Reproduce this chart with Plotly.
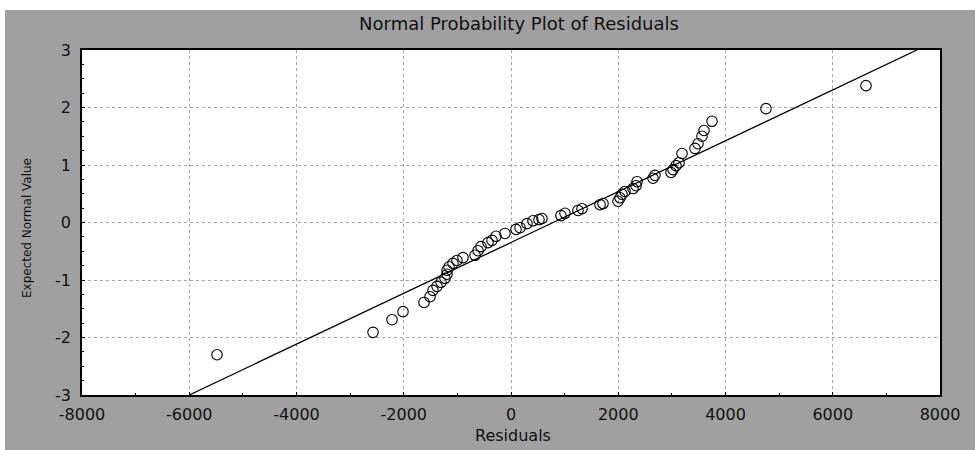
import plotly.graph_objects as go

# Residuals (x) and expected normal values (y)
residuals = [-5482, -2573, -2219, -2014, -1622, -1510, -1455, -1380, -1305, -1231,
             -1193, -1193, -1156, -1082, -1007, -895, -671, -615, -559, -429,
             -354, -280, -112, 93, 168, 298, 410, 522, 578, 932,
             1007, 1249, 1324, 1660, 1716, 1995, 2033, 2070, 2126, 2275,
             2331, 2350, 2648, 2685, 2984, 3021, 3077, 3133, 3189, 3431,
             3487, 3562, 3599, 3748, 4755, 6620]
expected = [-2.30, -1.91, -1.69, -1.55, -1.39, -1.29, -1.18, -1.11, -1.04, -0.97,
            -0.90, -0.83, -0.77, -0.71, -0.66, -0.61, -0.57, -0.49, -0.42, -0.35,
            -0.31, -0.24, -0.19, -0.12, -0.09, -0.02, 0.03, 0.05, 0.07, 0.12,
            0.16, 0.21, 0.24, 0.31, 0.33, 0.37, 0.43, 0.49, 0.54, 0.59,
            0.64, 0.71, 0.77, 0.82, 0.87, 0.92, 0.99, 1.04, 1.20, 1.29,
            1.37, 1.50, 1.60, 1.76, 1.98, 2.38]

# Reference line end points
line_x = [-6000, 7570]
line_y = [-3, 3]

x_ticks = [-8000, -6000, -4000, -2000, 0, 2000, 4000, 6000, 8000]
y_ticks = [-3, -2, -1, 0, 1, 2, 3]

title_text = "Normal Probability Plot of Residuals"
x_title = "Residuals"
y_title = "Expected Normal Value"

FONT = "DejaVu Sans, Liberation Sans, Arial, sans-serif"
TXT = "#111111"

fig = go.Figure()
fig.add_trace(go.Scatter(x=line_x, y=line_y, mode="lines",
                         line=dict(color="black", width=1.3),
                         showlegend=False, hoverinfo="skip"))
fig.add_trace(go.Scatter(x=residuals, y=expected, mode="markers",
                         marker=dict(symbol="circle-open", size=10.5,
                                     color="black", line=dict(width=1.1)),
                         showlegend=False))

W, H = 975, 450
L, R, T, B = 82, 35, 50, 55
pw, ph = W - L - R, H - T - B


def px_x(px):
    return (px - L) / pw


def px_y(py):
    return (H - B - py) / ph


# grey scanned frame + white plot area
fig.add_shape(type="rect", xref="paper", yref="paper", layer="below",
              x0=px_x(5), x1=px_x(W), y0=px_y(H), y1=px_y(10),
              fillcolor="#a0a0a0", line_width=0)
fig.add_shape(type="rect", xref="paper", yref="paper", layer="below",
              x0=0, x1=1, y0=0, y1=1, fillcolor="white", line_width=0)

fig.update_layout(
    width=W, height=H,
    margin=dict(l=L, r=R, t=T, b=B, autoexpand=False),
    paper_bgcolor="white",
    plot_bgcolor="white",
    font=dict(family=FONT, color=TXT),
    title=dict(text=title_text, x=519 / W, xanchor="center",
               y=1 - 24 / H, yanchor="middle", yref="container",
               font=dict(size=18, color=TXT, family=FONT)),
    showlegend=False,
)

axis_common = dict(
    showgrid=True, gridcolor="#a8a8a8", griddash="dot", gridwidth=1,
    zeroline=False, showline=True, linecolor="black", linewidth=1.5,
    mirror=True, ticks="inside", ticklen=3, tickcolor="black",
)
fig.update_xaxes(range=[-8000, 8000], tickvals=x_ticks,
                 ticktext=[str(v) for v in x_ticks],
                 tickfont=dict(size=16, color=TXT, family=FONT),
                 minor=dict(ticks="inside", ticklen=2, dtick=1000, tickcolor="black"),
                 ticklabelstandoff=4, **axis_common)
fig.update_yaxes(range=[-3, 3], tickvals=y_ticks,
                 ticktext=[str(v) for v in y_ticks],
                 tickfont=dict(size=16, color=TXT, family=FONT),
                 minor=dict(ticks="inside", ticklen=2, dtick=0.25, tickcolor="black"),
                 ticklabelstandoff=6, **axis_common)

fig.add_annotation(text=x_title, xref="paper", yref="paper",
                   x=px_x(513), y=px_y(435),
                   xanchor="center", yanchor="middle", showarrow=False,
                   font=dict(size=16, color=TXT, family=FONT))
fig.add_annotation(text=y_title, xref="paper", yref="paper",
                   x=px_x(27), y=px_y(228),
                   xanchor="center", yanchor="middle", showarrow=False,
                   textangle=-90,
                   font=dict(size=12, color=TXT, family=FONT))

fig.write_html("out.html", config={"displayModeBar": False})

# remove the default page margin so the figure sits at the window's top-left
with open("out.html", "r", encoding="utf-8") as f:
    html = f.read()
html = html.replace("<body>", '<body style="margin:0;padding:0;">', 1)
with open("out.html", "w", encoding="utf-8") as f:
    f.write(html)
